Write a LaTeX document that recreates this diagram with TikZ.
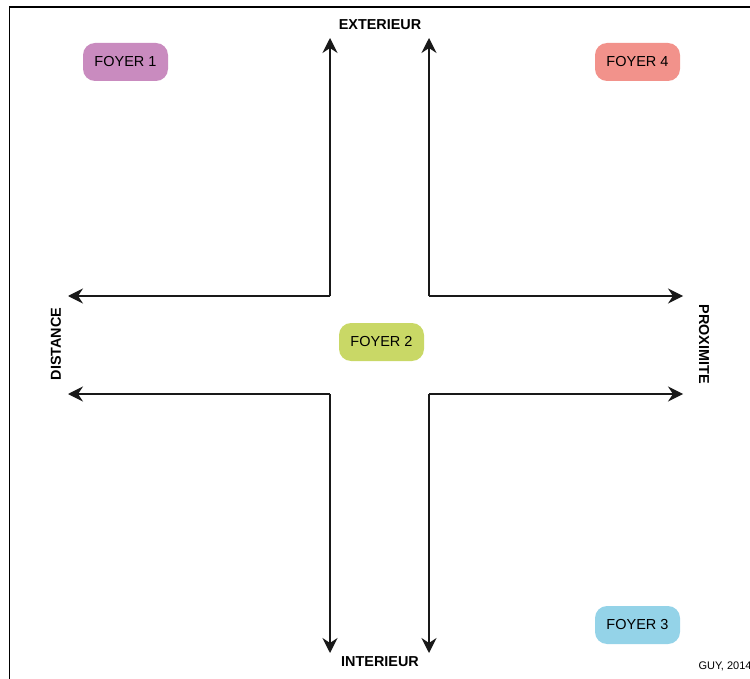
\documentclass[tikz,border=0pt]{standalone}
\usepackage{fontspec}
\setmainfont{Liberation Sans}
\usepackage{tikz}
\usetikzlibrary{positioning,arrows.meta}
\definecolor{foyerun}{HTML}{C98BBF}
\definecolor{foyerdeux}{HTML}{C9D866}
\definecolor{foyertrois}{HTML}{94D3E8}
\definecolor{foyerquatre}{HTML}{F2928B}
\tikzstyle{foyer} = [rounded corners=12pt, minimum width=85pt, minimum height=38pt, inner sep=0pt, font=\fontsize{14.5}{16}\selectfont]
\tikzstyle{axe} = [-{Stealth[length=15pt,width=15pt,inset=5pt]}, line width=1.3pt, black!90]
\tikzstyle{pole} = [inner sep=0pt, font=\bfseries\fontsize{14.4}{16}\selectfont]

\begin{document}
\begin{tikzpicture}[x=1pt,y=-1pt]
			\useasboundingbox (0,0) rectangle (750,679);
			\draw[line width=1.5pt] (9.5,679) -- (9.5,7) -- (750,7);
			% coins du carre central
			\coordinate (hg) at (330,296);
			\coordinate (hd) at (429,296);
			\coordinate (bg) at (330,394);
			\coordinate (bd) at (429,394);
			% bouts des fleches
			\coordinate (hg-haut) at (330,38);
			\coordinate (hd-haut) at (429,38);
			\coordinate (bg-bas) at (330,653);
			\coordinate (bd-bas) at (429,653);
			\coordinate (hg-gauche) at (68,296);
			\coordinate (bg-gauche) at (68,394);
			\coordinate (hd-droite) at (683,296);
			\coordinate (bd-droite) at (683,394);
			\draw[axe] (hg) -- (hg-haut);
			\draw[axe] (hd) -- (hd-haut);
			\draw[axe] (bg) -- (bg-bas);
			\draw[axe] (bd) -- (bd-bas);
			\draw[axe] (hg) -- (hg-gauche);
			\draw[axe] (bg) -- (bg-gauche);
			\draw[axe] (hd) -- (hd-droite);
			\draw[axe] (bd) -- (bd-droite);
			\node[pole] (ext) at (380,25) {EXTERIEUR};
			\node[pole] (int) at (380,662) {INTERIEUR};
			\node[pole, rotate=90] (dist) at (56,344) {DISTANCE};
			\node[pole, rotate=-90] (prox) at (704,344) {PROXIMITE};
			\node[foyer, fill=foyerun] (f1) at (125.5,62) {FOYER 1};
			\node[foyer, fill=foyerquatre] (f4) at (637.5,62) {FOYER 4};
			\node[foyer, fill=foyerdeux] (f2) at (381.5,342) {FOYER 2};
			\node[foyer, fill=foyertrois] (f3) at (637.5,625) {FOYER 3};
			\node[font=\fontsize{11}{12}\selectfont, inner sep=0pt] (auteur) at (725,666) {GUY, 2014};
		\end{tikzpicture}
\end{document}
